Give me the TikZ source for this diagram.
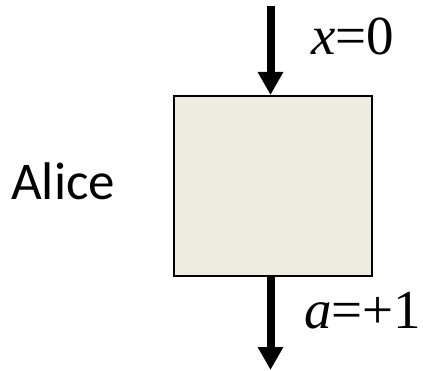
\documentclass[tikz,border=0pt]{standalone}
\usepackage{fontspec}
\setmainfont{Carlito}
\newfontfamily\timesfont{Liberation Serif}
\usepackage{tikz}
\usetikzlibrary{arrows.meta}
\definecolor{boxfill}{HTML}{EEEBE0}

\begin{document}
\begin{tikzpicture}[x=1pt,y=-1pt,
        flow/.style={-{Triangle[length=23pt,width=24pt]},line width=8pt},
        value/.style={font=\timesfont\fontsize{55}{55}\selectfont,inner sep=0pt,anchor=base west}]
      \useasboundingbox (0,0) rectangle (423,371);
      \node[draw,line width=2pt,fill=boxfill,inner sep=0pt,
            minimum width=198pt,minimum height=180pt] (box) at (273,186) {};
      \node[font=\fontsize{53}{53}\selectfont,inner sep=0pt,anchor=base west] (alice) at (11,200) {Alice};
      \coordinate (in) at (270.5,6);
      \coordinate (out) at (270.5,370);
      \draw[flow] (in) -- (in |- box.north);
      \draw[flow] (out |- box.south) -- (out);
      \node[value] (xval) at (311,55) {\textit{x}=0};
      \node[value] (aval) at (304,328) {\textit{a}=+1};
    \end{tikzpicture}
\end{document}
